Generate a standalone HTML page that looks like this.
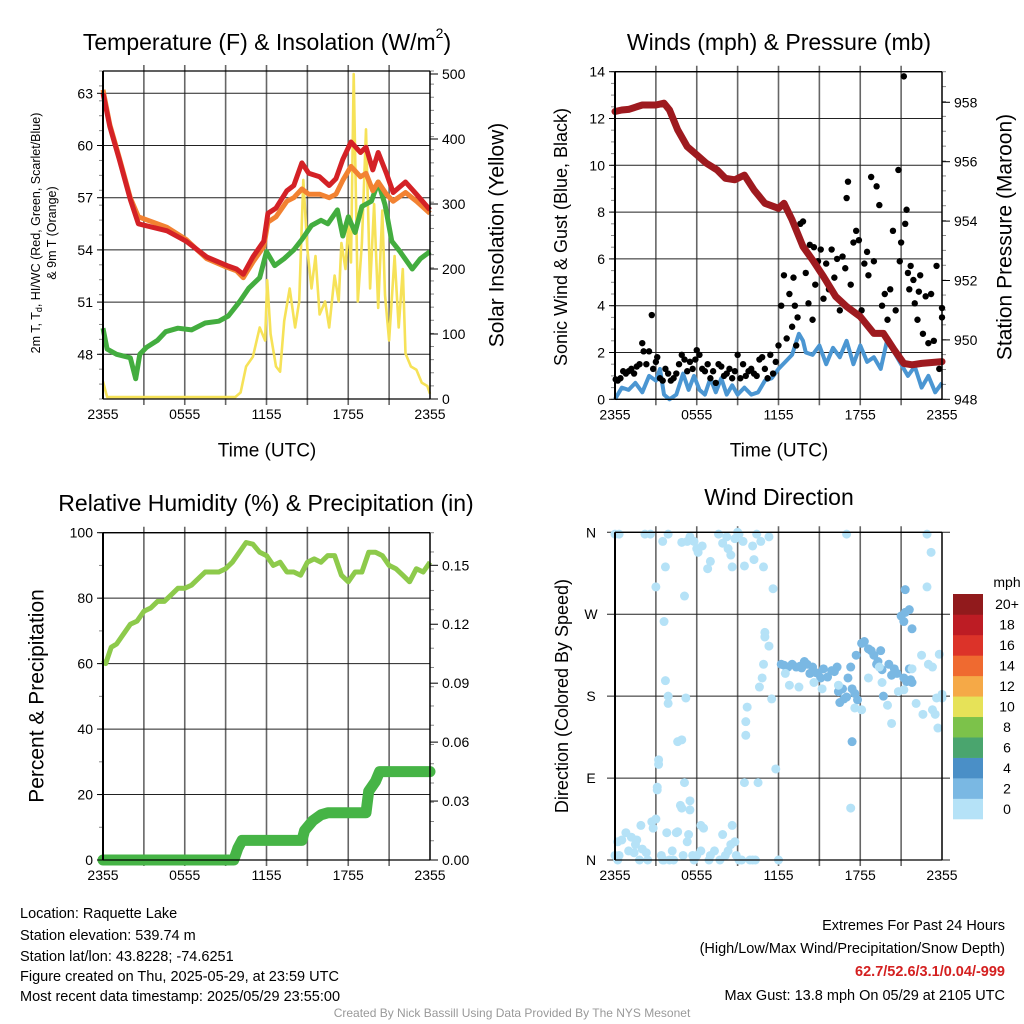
<!DOCTYPE html>
<html><head><meta charset="utf-8"><style>
body{margin:0;background:#fff;width:1024px;height:1024px;overflow:hidden;font-family:"Liberation Sans",sans-serif}
svg{position:absolute;left:0;top:0}
.ft{position:absolute;font-size:14.5px;color:#000;white-space:nowrap;line-height:1}
</style></head><body>
<svg id="c" width="1024" height="1024" viewBox="0 0 1024 1024" font-family="Liberation Sans, sans-serif"></svg>
<div class="ft" style="left:20px;top:907px">Location: Raquette Lake</div>
<div class="ft" style="left:20px;top:929px">Station elevation: 539.74 m</div>
<div class="ft" style="left:20px;top:950px">Station lat/lon: 43.8228; -74.6251</div>
<div class="ft" style="left:20px;top:970px">Figure created on Thu, 2025-05-29, at 23:59 UTC</div>
<div class="ft" style="left:20px;top:990px">Most recent data timestamp: 2025/05/29 23:55:00</div>
<div class="ft" style="right:19px;top:919px">Extremes For Past 24 Hours</div>
<div class="ft" style="right:19px;top:942px">(High/Low/Max Wind/Precipitation/Snow Depth)</div>
<div class="ft" style="right:19px;top:965px;color:#d42020;font-weight:bold">62.7/52.6/3.1/0.04/-999</div>
<div class="ft" style="right:19px;top:989px">Max Gust: 13.8 mph On 05/29 at 2105 UTC</div>
<div class="ft" style="left:0;width:1024px;text-align:center;top:1007px;font-size:12px;color:#999">Created By Nick Bassill Using Data Provided By The NYS Mesonet</div>
<script>
// ---- data ----
const xTickLabels=["2355","0555","1155","1755","2355"];
const tempTicks=[48,51,54,57,60,63];
const solarTicks=[0,100,200,300,400,500];
const windTicks=[0,2,4,6,8,10,12,14];
const presTicks=[948,950,952,954,956,958];
const rhTicks=[0,20,40,60,80,100];
const precipTicks=["0.00","0.03","0.06","0.09","0.12","0.15"];
const dirTicks=["N","E","S","W","N"];
const cbarLabels=["0","2","4","6","8","10","12","14","16","18","20+"];
const cbarColors=["#b5e2f7","#7ab8e3","#4a8fc7","#4aa56e","#7cc24a","#e6e258","#f5a947","#ef6a30","#dc3329","#bd1c24","#911a1c"];

const tempT=[0,0.5,1.2,2,2.6,4.7,6.1,7.6,9.1,9.8,10.3,11,11.8,12.1,12.7,13.5,14,14.6,15.1,15.9,16.6,17.1,17.6,18.2,18.9,19.3,19.8,20.2,20.8,21.3,22.2,23,24];
const tempRed=[63,61.1,59.2,56.9,55.5,55.1,54.5,53.6,53.1,52.9,52.6,53.6,54.5,56.1,56.4,57.4,57.7,59,58.4,58.2,57.7,58.1,59.2,60.2,59.6,59.9,58.6,59.6,58.4,57.3,57.9,57.2,56.3];
const tempOrange=[63.2,61.2,59.3,57,55.9,55.3,54.6,53.5,53,52.8,52.4,53.3,54.2,55.6,55.9,56.8,57,57.5,57.2,57.2,57,57.2,58,58.8,58.2,58.4,57.4,57.9,57.2,56.8,57.3,56.8,56.1];
const dewT=[0,0.3,1,2,2.4,2.7,3.2,4,4.6,5.5,6.5,7.5,8.5,9.2,10,10.7,11.5,12,12.6,13.3,14,14.6,15.3,16,16.5,17.2,17.6,18,18.5,19,19.7,20.2,20.7,21.2,21.8,22.7,23.3,24];
const dewVals=[49.5,48.3,48,47.8,46.6,48,48.4,48.8,49.3,49.5,49.4,49.8,49.9,50.2,51,51.8,52.4,53.9,53.1,53.5,54,54.6,55.4,55.7,55.5,56.3,54.8,55.9,55,56.5,56.8,57.9,56.6,54.5,53.9,52.9,53.5,53.9];
const solarT=[0,0.3,9.7,10.1,10.5,11,11.5,11.9,12.05,12.3,12.7,13,13.3,13.7,14.1,14.4,14.7,15,15.3,15.6,15.9,16.3,16.6,17,17.3,17.5,17.8,18,18.2,18.4,18.7,19,19.3,19.6,19.9,20.2,20.5,20.7,21,21.4,21.7,22,22.2,22.6,23,23.4,23.8,24];
const solarVals=[27,3,3,10,50,65,110,90,183,100,50,42,120,170,110,150,337,230,170,220,130,150,110,190,150,240,200,270,210,500,150,240,415,170,300,140,290,160,90,220,110,200,70,50,45,25,20,8];

const presT=[0,0.5,1,2,3,3.6,4,4.6,5.3,6,6.7,7.5,8.1,8.8,9.5,10.2,11,12,12.4,13,13.8,14.5,15.3,16.2,17,18,19,19.7,20.5,21.2,21.8,22.5,24];
const presVals=[957.69,957.74,957.76,957.91,957.91,957.97,957.74,957.07,956.51,956.23,955.95,955.72,955.44,955.39,955.55,955.05,954.6,954.43,954.6,954.04,953.14,952.69,952.13,951.46,951.12,950.78,950.22,950.22,949.66,949.21,949.16,949.21,949.27];
const windT=[0,0.5,1,1.5,2,2.5,3,3.3,3.6,4,4.5,5,5.4,5.8,6.2,6.6,7,7.4,7.8,8.2,8.6,9,9.5,10,10.5,11,11.5,12,12.5,13,13.5,13.8,14,14.5,15,15.5,16,16.5,17,17.5,18,18.5,19,19.5,20,20.5,21,21.5,22,22.5,23,23.5,24];
const windVals=[0,0.5,0.4,0.7,0.3,1,0.8,1.3,0.2,0,0.2,1.1,0.4,1,0.4,0.2,0.9,0.3,0.9,0.2,0.6,0.2,0.5,0.2,0.3,0.8,0.9,1.3,1.6,1.9,2.8,2.5,2,1.9,2.3,1.5,2.2,1.8,2.5,1.5,2.3,1.6,1.8,1.3,2.6,2,1.5,1,1.4,0.5,1,0.3,0.7];
const gustT=[0.05,0.2,0.4,0.6,0.8,1,1.2,1.4,1.6,1.8,2,2.1,2.3,2.5,2.7,2.8,3,3.1,3.3,3.5,3.7,3.9,4.1,4.3,4.5,4.7,4.9,5.1,5.3,5.5,5.7,5.9,6,6.2,6.4,6.6,6.8,7,7.2,7.4,7.6,7.8,8,8.2,8.4,8.6,8.8,9,9.2,9.4,9.6,9.8,10,10.2,10.4,10.6,10.8,11,11.2,11.4,11.6,11.8,12,12.2,12.4,12.6,12.8,13,13.1,13.2,13.3,13.4,13.6,13.8,14,14.2,14.3,14.5,14.6,14.7,14.9,15.1,15.3,15.5,15.7,15.9,16.1,16.3,16.5,16.7,16.9,17,17.1,17.3,17.5,17.7,17.9,18.1,18.3,18.5,18.6,18.8,19,19.2,19.4,19.6,19.8,20,20.2,20.4,20.6,20.8,20.9,21,21.2,21.3,21.4,21.5,21.6,21.7,21.9,22,22.2,22.3,22.4,22.6,22.8,23,23.2,23.4,23.6,23.8,24,24];
const gustVals=[0.85,0.8,0.9,1.2,1.1,1.2,1.3,1.1,1.4,1.5,2.4,2.05,1.5,2.05,3.6,1.3,1.6,1.8,0.9,0.8,1.3,1.1,0.8,0.9,1.1,1.5,1.9,1.7,1.2,1.6,1.3,1.7,2.1,1.9,1.3,1.2,1.5,0.9,1.2,0.7,1.5,1.4,1,1.1,1.3,0.9,1.2,1.9,0.9,1.5,1,1.2,1.3,1.1,1,1.7,1.8,1.3,0.9,1.9,1.1,1.6,2.3,4,5.3,2.6,4.5,3.1,5.2,4,2.3,3.5,7.5,7.6,5.4,4.1,6.6,3.4,6.5,4.9,5.9,6.4,4.3,5.8,4.7,6.4,5.2,6,3.8,6.1,5.6,8.6,9.3,4.9,6.7,7.2,6.8,3.8,5.8,6.3,5.3,9.5,5.9,9.1,8.3,4,4.5,3.4,4.7,7.2,3.8,9.8,5.9,6.7,13.8,7.5,8.1,5.4,4.7,5.7,5.1,4.1,3.4,4.6,5.3,2.8,4.4,2.4,4.5,2.5,5.7,1.3,3.9,3.5];

const rhT=[0,0.2,0.6,1,1.5,2,2.5,3,3.5,4,4.5,5,5.5,6,6.5,7,7.5,8,8.5,9,9.5,10,10.5,11,11.5,12,12.5,13,13.5,14,14.5,15,15.5,16,16.5,17,17.5,18,18.5,19,19.5,20,20.5,21,21.5,22,22.5,23,23.5,24];
const rhVals=[61,60,65,66,69,72,73,76,77,79,79,81,83,83,84,86,88,88,88,89,91,94,97,96.5,94,93,90,91,88,88,87,91,92,91,93,93,87,85,88,88,94,94,93,90,89,87,85,89,88,91];
const precipT=[0,9.6,9.9,10.2,14.6,14.8,15.4,16,16.5,19.3,19.5,20,20.3,24];
const precipVals=[0,0,0.006,0.01,0.01,0.015,0.02,0.023,0.024,0.024,0.035,0.04,0.045,0.045];

const dirT=[0,0.2,0.3,0.5,0.8,1,1.2,1.4,1.5,1.6,1.8,1.9,2,2.3,2.7,2.8,3,3.1,3.1,3.2,3.2,3.4,3.5,3.6,3.8,4,4.2,4.3,4.5,4.6,4.6,4.8,4.9,5,5.1,5.3,5.4,5.5,5.5,5.7,5.8,6,6.3,6.3,6.5,6.9,7,7.3,7.7,7.9,8.1,8.3,8.5,8.6,8.8,8.9,9.1,9.3,9.5,9.6,9.6,9.7,9.9,10.1,10.3,10.5,10.6,10.8,10.9,11,11,11.3,11.5,
0,0.3,2.2,2.6,3.5,3.7,3.9,4.9,5.3,5.5,5.8,6,6.1,6.4,6.8,7,7.6,7.9,8.2,8.5,8.8,9.1,9.4,10.4,10.7,11.6,3,3.6,5.1,11.3,10.2,10.1,12,11.8,0.2,2.4,8.3,8.6,9.5,10.9,9,3.7,3.9,3.9,5.2,4.9,
12.2,12.4,12.7,13,13.3,13.6,13.7,13.9,14.1,14.3,14.5,14.7,14.9,15.1,15.3,15.6,15.9,16.1,16.3,16.4,16.7,16.5,16.8,17,17.1,17.3,17.4,17.6,17.8,17.7,18.1,18.3,18.6,18.8,19,19.3,19.5,19.2,19.6,20.1,20.3,20.5,20.7,21.2,21.4,21.6,21.7,21.8,21.3,21,21.2,21.3,21.6,21.8,19.7,17.4,
12.5,12.8,13.5,14.6,15.2,16.4,17.6,18.1,19.4,19.6,20,20.3,20.8,21.2,21.8,22.1,22.5,23,23.3,23.8,23.6,23.3,23.5,23.7,24,24,23.2,22.9,17.3,17,22.6,18.6,22.9];
const dirDeg=[5,20,5,22,30,10,25,8,17,22,0,38,12,8,42,35,45,80,77,105,110,5,0,0,30,0,10,0,30,130,31,60,57,5,85,20,28,65,55,5,0,5,10,38,35,0,5,10,0,28,5,10,17,38,20,5,0,0,85,152,137,168,0,0,0,85,190,200,215,245,250,235,177,
358,358,358,358,350,322,358,349,350,355,350,342,338,345,320,328,358,348,355,335,353,358,350,358,350,298,300,262,290,355,330,345,0,100,0,0,342,322,323,322,360,197,180,172,178,132,
215,214,212,215,212,213,211,218,215,205,212,206,205,200,210,201,208,207,212,185,188,173,177,179,200,212,188,183,176,225,238,240,232,230,225,218,230,215,209,215,203,210,205,200,196,210,198,195,272,268,262,297,275,254,180,130,
205,192,190,195,188,192,167,165,212,195,170,150,185,187,210,172,225,215,212,226,178,165,160,145,178,182,338,358,57,358,160,200,300];
const dirSpeed=[];
for(let i=0;i<dirT.length;i++){dirSpeed.push(i>=119&&i<175?3:1);}

// ---- drawing ----
const NS="http://www.w3.org/2000/svg";
const svg=document.getElementById('c');
function el(tag,attrs,parent){const e=document.createElementNS(NS,tag);for(const k in attrs)e.setAttribute(k,attrs[k]);(parent||svg).appendChild(e);return e;}
function txt(s,x,y,size,anchor,rot,parent){const t=el('text',{x:x,y:y,'font-size':size,'text-anchor':anchor||'middle','dominant-baseline':'central',fill:'#000'},parent);if(rot)t.setAttribute('transform','rotate('+rot+' '+x+' '+y+')');t.textContent=s;return t;}

function panel(name,L,R,T,B){
  const g=el('g',{});
  
  
  const xs=h=>L+h*(R-L)/24;
  for(let k=1;k<8;k++){const l=el('line',{x1:xs(k*3),x2:xs(k*3),y1:T-6,y2:B+6,stroke:'#666','stroke-width':1.6},g);}
  return {g,xs};
}
function hgrid(g,L,R,y){const l=el('line',{x1:L,x2:R,y1:y,y2:y,stroke:'#222','stroke-width':1},g);}
function frame(g,L,R,T,B,xs){
  el('line',{x1:L,x2:L,y1:T,y2:B,stroke:'#000','stroke-width':2},g);
  el('line',{x1:R,x2:R,y1:T,y2:B,stroke:'#000','stroke-width':1.5},g);
  el('line',{x1:L,x2:R,y1:B,y2:B,stroke:'#000','stroke-width':1.3},g);
  el('line',{x1:L,x2:R,y1:T,y2:T,stroke:'#000','stroke-width':1.3},g);
  xTickLabels.forEach((s,i)=>{const t=txt(s,xs(i*6),B+15,14,'middle',0,g);});
}
function pathFrom(xsArr,ysArr,xf,yf){let d='';for(let i=0;i<xsArr.length;i++){d+=(i?'L':'M')+xf(xsArr[i]).toFixed(1)+' '+yf(ysArr[i]).toFixed(1);}return d;}
function leftTicks(g,L,vals,yf,labels){vals.forEach((v,i)=>{const y=yf(v);el('line',{x1:L-6,x2:L,y1:y,y2:y,stroke:'#000','stroke-width':1},g);const t=txt(labels?labels[i]:String(v),L-10,y,14,'end',0,g);});}
function rightTicks(g,R,vals,yf,labels){vals.forEach((v,i)=>{const y=yf(v);el('line',{x1:R,x2:R+8,y1:y,y2:y,stroke:'#000','stroke-width':1},g);const t=txt(labels?labels[i]:String(v),R+12,y,14,'start',0,g);});}
function minor(g,x,y1,y2,dir,n){for(let i=0;i<=n;i++){const y=y1+(y2-y1)*i/n;el('line',{x1:x,x2:x+dir*4,y1:y,y2:y,stroke:'#888','stroke-width':1},g);}}

// ===== Panel 1 =====
(function(){
  const L=103,R=430,T=71,B=399;
  const {g,xs}=panel('temperature-panel',L,R,T,B);
  const yT=v=>93.3+(63-v)*17.4, yS=v=>399-v*0.65;
  tempTicks.forEach(v=>hgrid(g,L,R,yT(v)));
  minor(g,L,T,B,-1,22);minor(g,R,T,B,1,25);
  let p;
  p=el('path',{d:pathFrom(solarT,solarVals,xs,yS),fill:'none',stroke:'#f6e258','stroke-width':2.6,'stroke-linejoin':'round'},g);
  p=el('path',{d:pathFrom(dewT,dewVals,xs,yT),fill:'none',stroke:'#43ad3f','stroke-width':5,'stroke-linejoin':'round'},g);
  p=el('path',{d:pathFrom(tempT,tempOrange,xs,yT),fill:'none',stroke:'#f28232','stroke-width':5,'stroke-linejoin':'round'},g);
  p=el('path',{d:pathFrom(tempT,tempRed,xs,yT),fill:'none',stroke:'#d42126','stroke-width':5,'stroke-linejoin':'round'},g);
  frame(g,L,R,T,B,xs);
  leftTicks(g,L,tempTicks,yT);
  rightTicks(g,R,solarTicks,yS);
  let t=el('text',{x:267,y:42,'font-size':23,'text-anchor':'middle','dominant-baseline':'central'},g);t.innerHTML='Temperature (F) &amp; Insolation (W/m<tspan dy="-9" font-size="14">2</tspan><tspan dy="9">)</tspan>';
  t=txt('Time (UTC)',267,451,19,'middle',0,g);
  t=el('text',{x:36,y:233,'font-size':12.5,'text-anchor':'middle','dominant-baseline':'central',transform:'rotate(-90 36 233)'},g);t.innerHTML='2m T, T<tspan dy="3" font-size="9">d</tspan><tspan dy="-3">, HI/WC (Red, Green, Scarlet/Blue)</tspan>';
  t=txt('& 9m T (Orange)',52,233,12.5,'middle',-90,g);
  t=txt('Solar Insolation (Yellow)',497,235,21,'middle',-90,g);
})();

// ===== Panel 2 =====
(function(){
  const L=615,R=942,T=71.7,B=399.3;
  const {g,xs}=panel('wind-pressure-panel',L,R,T,B);
  const yW=v=>399.3-v*23.4, yP=v=>399.3-(v-948)*29.7;
  windTicks.forEach(v=>hgrid(g,L,R,yW(v)));
  minor(g,L,T,B,-1,28);minor(g,R,T,B,1,22);
  let p=el('path',{d:pathFrom(windT,windVals,xs,yW),fill:'none',stroke:'#4b96d2','stroke-width':4,'stroke-linejoin':'round'},g);
  for(let i=0;i<gustT.length;i++){const c=el('circle',{cx:xs(gustT[i]),cy:yW(gustVals[i]),r:3.2,fill:'#000'},g);}
  p=el('path',{d:pathFrom(presT,presVals,xs,yP),fill:'none',stroke:'#9e1a1f','stroke-width':7,'stroke-linejoin':'round','stroke-linecap':'round'},g);
  frame(g,L,R,T,B,xs);
  leftTicks(g,L,windTicks,yW);
  rightTicks(g,R,presTicks,yP);
  let t=txt('Winds (mph) & Pressure (mb)',779,42,23,'middle',0,g);
  t=txt('Time (UTC)',779,451,19,'middle',0,g);
  t=txt('Sonic Wind & Gust (Blue, Black)',561,237,18,'middle',-90,g);
  t=txt('Station Pressure (Maroon)',1005,237,21,'middle',-90,g);
})();

// ===== Panel 3 =====
(function(){
  const L=103,R=430,T=532.7,B=860;
  const {g,xs}=panel('humidity-precip-panel',L,R,T,B);
  const yR=v=>860-v*3.273, yPr=v=>860-v*1964.7;
  rhTicks.forEach(v=>hgrid(g,L,R,yR(v)));
  minor(g,L,T,B,-1,10);minor(g,R,T,B,1,17);
  let p=el('path',{d:pathFrom(precipT,precipVals,xs,yPr),fill:'none',stroke:'#46b446','stroke-width':11,'stroke-linejoin':'round','stroke-linecap':'round'},g);
  p=el('path',{d:pathFrom(rhT,rhVals,xs,yR),fill:'none',stroke:'#8dca4b','stroke-width':5,'stroke-linejoin':'round'},g);
  frame(g,L,R,T,B,xs);
  leftTicks(g,L,rhTicks,yR);
  rightTicks(g,R,precipTicks.map(Number),yPr,precipTicks);
  let t=txt('Relative Humidity (%) & Precipitation (in)',266,503,23,'middle',0,g);
  t=txt('Percent & Precipitation',37,696,21,'middle',-90,g);
})();

// ===== Panel 4 =====
(function(){
  const L=615,R=942,T=532.3,B=860;
  const {g,xs}=panel('wind-direction-panel',L,R,T,B);
  const yD=v=>860-v*(B-T)/360;
  dirTicks.forEach((s,i)=>hgrid(g,L-8,R+8,yD(i*90)));
  for(let i=0;i<dirT.length;i++){
    const bin=Math.min(10,Math.floor(dirSpeed[i]/2));
    const c=el('circle',{cx:xs(dirT[i]),cy:yD(dirDeg[i]),r:4.5,fill:cbarColors[bin]},g);
    
    
  }
  frame(g,L,R,T,B,xs);
  dirTicks.forEach((s,i)=>{const t=txt(s,L-24,yD(i*90),14,'middle',0,g);});
  let t=txt('Wind Direction',779,497,23,'middle',0,g);
  t=txt('Direction (Colored By Speed)',562,696,18,'middle',-90,g);
  const cb=el('g',{},g);
  
  
  const cbT=594,cbH=225/11;
  cbarColors.forEach((col,i)=>{const r=el('rect',{x:953,y:cbT+(10-i)*cbH,width:30,height:cbH+0.3,fill:col},cb);
    const tl=txt(cbarLabels[i],1007,cbT+(10-i)*cbH+cbH/2,14,'middle',0,cb);});
  t=txt('mph',1007,582,14,'middle',0,cb);
})();
</script>
</body></html>
